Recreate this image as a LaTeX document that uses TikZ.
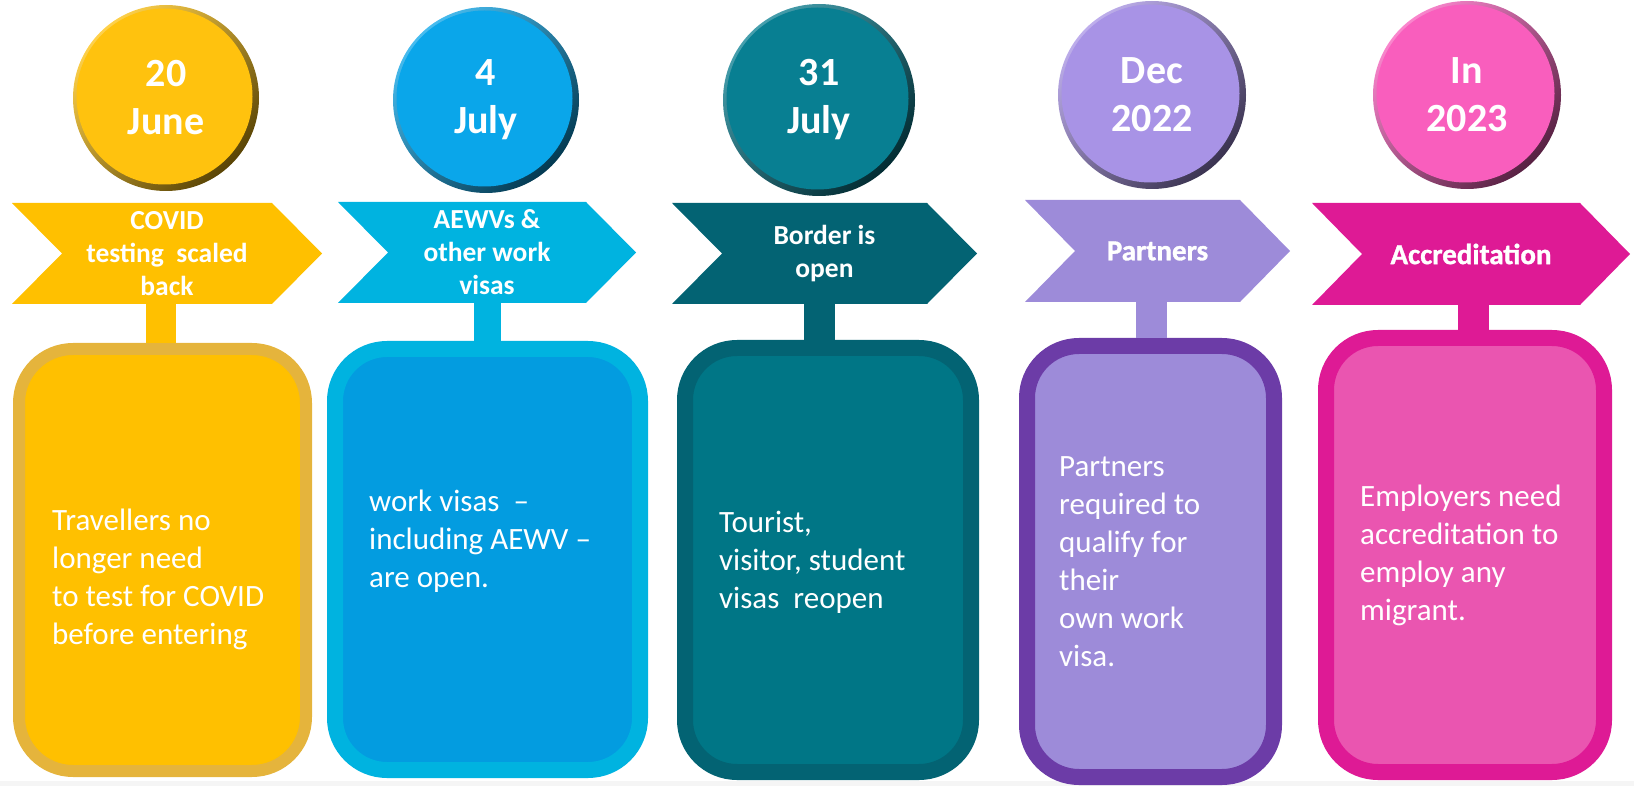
\documentclass[tikz,border=0pt]{standalone}
\usepackage{fontspec}
\setmainfont{Carlito}
\newfontfamily\heavyfont[FakeBold=1.2]{Carlito Bold}
\usetikzlibrary{calc}

\definecolor{junecirc}{HTML}{FFC20E}
\definecolor{junesign}{HTML}{FFC000}
\definecolor{junefill}{HTML}{FFC000}
\definecolor{juneline}{HTML}{E5B43C}
\definecolor{julycirc}{HTML}{0AA6EA}
\definecolor{julysign}{HTML}{00B3E0}
\definecolor{julyfill}{HTML}{039CE0}
\definecolor{julyline}{HTML}{00B3E0}
\definecolor{bordercirc}{HTML}{087F92}
\definecolor{bordersign}{HTML}{036373}
\definecolor{borderfill}{HTML}{007686}
\definecolor{borderline}{HTML}{036373}
\definecolor{deccirc}{HTML}{A893E6}
\definecolor{decsign}{HTML}{9D8BD9}
\definecolor{decfill}{HTML}{9D8BD9}
\definecolor{decline}{HTML}{6C3CA7}
\definecolor{acccirc}{HTML}{F95EBD}
\definecolor{accsign}{HTML}{DE1A95}
\definecolor{accfill}{HTML}{EA55B0}
\definecolor{accline}{HTML}{DE1A95}

\tikzstyle{date} = [circle, minimum size=188pt, inner sep=0pt, text=white, align=center,
    font=\bfseries\fontsize{40}{48}\selectfont,
    top color=#1!75!white, bottom color=#1!35!black, shading angle=45,
    path picture={\fill[#1] let \p1=(path picture bounding box.east), \p2=(path picture bounding box.center)
        in ([shift={(-1.5pt,1.5pt)}]\p2) circle (\x1-\x2-5pt);}]
\tikzstyle{sign} = [rectangle, inner sep=0pt, minimum height=101pt, text=white, align=center,
    font=\bfseries\fontsize{27.5}{33}\selectfont,
    path picture={\fill[#1] (path picture bounding box.north west)
        -- ([xshift=-50pt]path picture bounding box.north east)
        -- (path picture bounding box.east)
        -- ([xshift=-50pt]path picture bounding box.south east)
        -- (path picture bounding box.south west)
        -- ([xshift=50pt]path picture bounding box.west) -- cycle;}]
\tikzstyle{bigsign} = [font=\heavyfont\fontsize{29}{34}\selectfont]
\tikzstyle{box} = [rectangle, rounded corners=52pt, inner sep=0pt, line width=16pt, fill=#1]
\tikzstyle{note} = [anchor=north west, inner sep=0pt, align=left, text=white,
    font=\fontsize{31}{38}\selectfont]
\tikzstyle{stem} = [line width=31pt]

\begin{document}
\begin{tikzpicture}[x=1pt, y=-1pt]
    \useasboundingbox (0,0) rectangle (1634,786);
    \fill [gray!8] (0,781) rectangle (1634,786);

    % Dates
    \node [date=junecirc, minimum size=186pt] (date1) at (166,98) {20\\June};
    \node [date=julycirc, minimum size=186pt] (date2) at (486,100) {4\\July};
    \node [date=bordercirc, minimum size=192pt] (date3) at (819,100) {31\\July};
    \node [date=deccirc] (date4) at (1152,95) {Dec\\2022};
    \node [date=acccirc] (date5) at (1467,95) {In\\2023};

    % Signposts
    \node [sign=junesign, minimum width=310pt] (sign1) at (167,253.5) {COVID\\testing~ scaled\\back};
    \node [sign=julysign, minimum width=298pt] (sign2) at (487,252.5) {AEWVs \&\\other work\\visas};
    \node [sign=bordersign, minimum width=305pt] (sign3) at (824.5,253.5) {Border is\\open};
    \node [sign=decsign, bigsign, minimum width=265pt, minimum height=102pt] (sign4) at (1157.5,251) {Partners};
    \node [sign=accsign, bigsign, minimum width=318pt, minimum height=102pt] (sign5) at (1471,254) {Accreditation};

    % Boxes
    \node [box=junefill, draw=juneline, line width=12pt, rounded corners=54pt,
        minimum width=287pt, minimum height=422pt] (box1) at (162.5,560) {};
    \node [box=julyfill, draw=julyline, minimum width=305pt, minimum height=421pt] (box2) at (487.5,559.5) {};
    \node [box=borderfill, draw=borderline, minimum width=286pt, minimum height=424pt] (box3) at (828,560) {};
    \node [box=decfill, draw=decline, minimum width=247pt, minimum height=431pt] (box4) at (1150.5,561.5) {};
    \node [box=accfill, draw=accline, minimum width=278pt, minimum height=434pt] (box5) at (1465,555) {};

    \node [note] (note1) at (52,509) {Travellers no\\longer need\\to test for COVID\\before entering};
    \node [note] (note2) at (369,490) {work visas~ --\\including AEWV --\\are open.};
    \node [note] (note3) at (719,511) {Tourist,\\visitor, student\\visas~ reopen};
    \node [note] (note4) at (1059,456) {Partners\\required to\\qualify for\\their\\own work\\visa.};
    \node [note] (note5) at (1360,485) {Employers need\\accreditation to\\employ any\\migrant.};

    % Stems
    \draw [stem, junesign, line width=30pt] ([xshift=-6pt]sign1.south) -- ([xshift=-6pt]sign1.south |- box1.north);
    \draw [stem, julysign, line width=27pt] (sign2.south) -- (sign2.south |- box2.north);
    \draw [stem, bordersign] ([xshift=-5pt]sign3.south) -- ([xshift=-5pt]sign3.south |- box3.north);
    \draw [stem, decsign] ([xshift=-6pt]sign4.south) -- ([xshift=-6pt]sign4.south |- box4.north);
    \draw [stem, accsign] ([xshift=2.5pt]sign5.south) -- ([xshift=2.5pt]sign5.south |- box5.north);
\end{tikzpicture}
\end{document}
